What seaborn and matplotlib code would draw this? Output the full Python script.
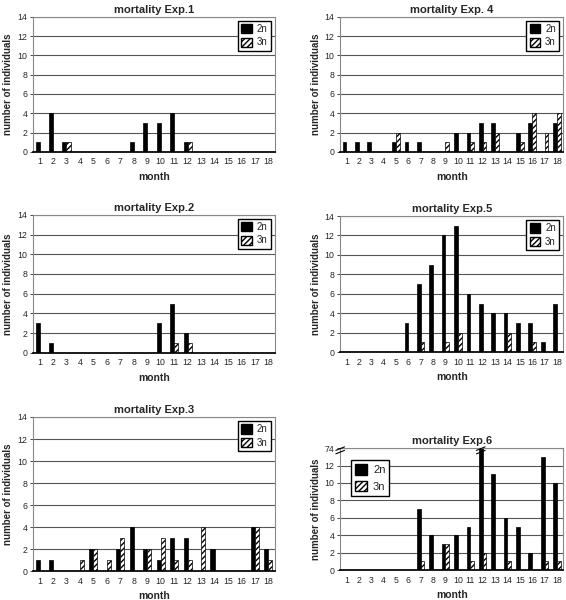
import pandas as pd
import seaborn as sns
import matplotlib.pyplot as plt
from matplotlib.patches import Patch

months = list(range(1, 19))

# deaths per month, diploid (2n) and triploid (3n)
exp1_2n = [1, 4, 1, 0, 0, 0, 0, 1, 3, 3, 4, 1, 0, 0, 0, 0, 0, 0]
exp1_3n = [0, 0, 1, 0, 0, 0, 0, 0, 0, 0, 0, 1, 0, 0, 0, 0, 0, 0]
exp2_2n = [3, 1, 0, 0, 0, 0, 0, 0, 0, 3, 5, 2, 0, 0, 0, 0, 0, 0]
exp2_3n = [0, 0, 0, 0, 0, 0, 0, 0, 0, 0, 1, 1, 0, 0, 0, 0, 0, 0]
exp3_2n = [1, 1, 0, 0, 2, 0, 2, 4, 2, 1, 3, 3, 0, 2, 0, 0, 4, 2]
exp3_3n = [0, 0, 0, 1, 2, 1, 3, 0, 2, 3, 1, 1, 4, 0, 0, 0, 4, 1]
exp4_2n = [1, 1, 1, 0, 1, 1, 1, 0, 0, 2, 2, 3, 3, 0, 2, 3, 0, 3]
exp4_3n = [0, 0, 0, 0, 2, 0, 0, 0, 1, 0, 1, 1, 2, 0, 1, 4, 2, 4]
exp5_2n = [0, 0, 0, 0, 0, 3, 7, 9, 12, 13, 6, 5, 4, 4, 3, 3, 1, 5]
exp5_3n = [0, 0, 0, 0, 0, 0, 1, 0, 1, 2, 0, 0, 0, 2, 0, 1, 0, 0]
exp6_2n = [0, 0, 0, 0, 0, 0, 7, 4, 3, 4, 5, 74, 11, 6, 5, 2, 13, 10]
exp6_3n = [0, 0, 0, 0, 0, 0, 1, 0, 3, 0, 1, 2, 0, 1, 0, 0, 1, 1]

panels = [
    ("mortality Exp.1", exp1_2n, exp1_3n, [0.058, 0.747, 0.428, 0.225], "upper right"),
    ("mortality Exp. 4", exp4_2n, exp4_3n, [0.601, 0.747, 0.394, 0.225], "upper right"),
    ("mortality Exp.2", exp2_2n, exp2_3n, [0.058, 0.412, 0.428, 0.230], "upper right"),
    ("mortality Exp.5", exp5_2n, exp5_3n, [0.601, 0.413, 0.394, 0.227], "upper right"),
    ("mortality Exp.3", exp3_2n, exp3_3n, [0.058, 0.048, 0.428, 0.257], "upper right"),
    ("mortality Exp.6", exp6_2n, exp6_3n, [0.601, 0.050, 0.394, 0.203], "upper left"),
]

sns.set_theme(style="white")
plt.rcParams['font.family'] = ['Liberation Sans', 'DejaVu Sans']

fig = plt.figure(figsize=(5.66, 6.0), dpi=100)
HATCH = '//////'

for title, v2n, v3n, rect, loc in panels:
    ax = fig.add_axes(rect)
    df = pd.DataFrame({
        'month': months * 2,
        'count': v2n + v3n,
        'ploidy': ['2n'] * 18 + ['3n'] * 18,
    })
    sns.barplot(data=df, x='month', y='count', hue='ploidy',
                palette={'2n': 'black', '3n': 'white'}, width=0.6,
                edgecolor='black', linewidth=0.5, legend=False, ax=ax)
    for bar in ax.containers[1]:
        bar.set_hatch(HATCH)

    ax.set_ylim(0, 14)
    ax.set_yticks(range(0, 15, 2))
    ax.yaxis.grid(True, color='#555555', linewidth=0.8)
    ax.set_axisbelow(True)
    for s in ['top', 'right', 'left']:
        ax.spines[s].set_color('#888888')
        ax.spines[s].set_linewidth(0.8)
    ax.spines['bottom'].set_color('black')
    ax.tick_params(axis='y', labelsize=6.3, length=2, width=0.6, pad=2, left=True)
    ax.tick_params(axis='x', labelsize=6.3, length=0, pad=4)
    ax.set_xlim(-0.5, 17.5)
    ax.set_title(title, fontsize=8, fontweight='bold', pad=3)
    ax.set_xlabel('month', fontsize=7.5, fontweight='bold', labelpad=4)
    ax.set_ylabel('number of individuals', fontsize=7, fontweight='bold', labelpad=3)

    is6 = 'Exp.6' in title
    handles = [Patch(facecolor='black', edgecolor='black', label='2n'),
               Patch(facecolor='white', edgecolor='black', hatch=HATCH, label='3n')]
    ax.legend(handles=handles, loc=loc, fontsize=8 if is6 else 7,
              fancybox=False, edgecolor='black', framealpha=1,
              handlelength=1.1, handleheight=1.1, handletextpad=0.5,
              borderpad=0.35, labelspacing=0.5 if is6 else 0.35,
              borderaxespad=0.4,
              bbox_to_anchor=(0.03, 0.94) if is6 else None)

    if is6:
        labels = [str(t) for t in range(0, 13, 2)] + ['74']
        ax.set_yticklabels(labels)
        # break marks on the axis and on the clipped bar
        tall = max(range(18), key=lambda i: v2n[i])
        bar = ax.containers[0][tall]
        bx = bar.get_x() + bar.get_width() / 2
        for xc in [-0.5, bx]:
            for dy in [-0.25, 0.15]:
                ax.plot([xc - 0.35, xc + 0.35], [13.6 + dy, 14.0 + dy], color='black',
                        linewidth=0.8, clip_on=False, zorder=5)

fig.savefig('out.png', dpi=100)
